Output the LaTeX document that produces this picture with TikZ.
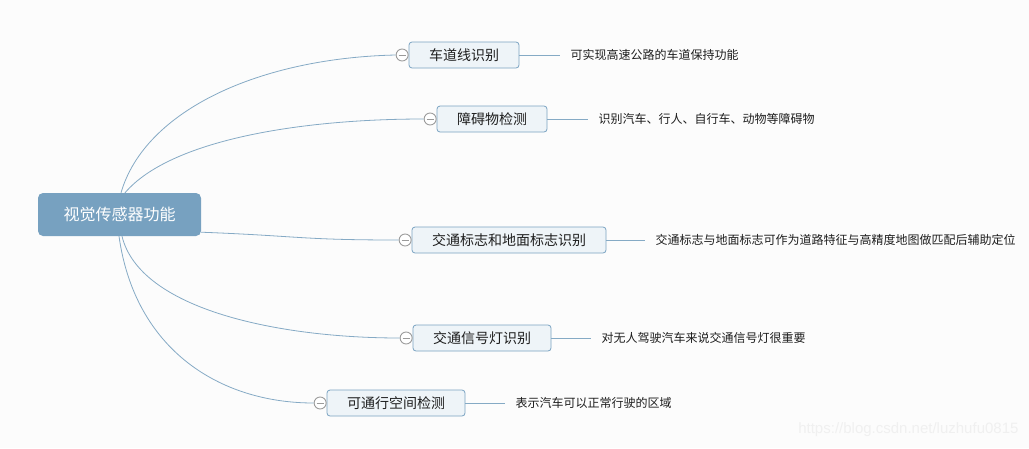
\documentclass[tikz,border=0pt]{standalone}
\usepackage{fontspec}
\setmainfont{Noto Sans CJK SC}
\setsansfont{Liberation Sans}
\usetikzlibrary{positioning}

\definecolor{bgwhite}{HTML}{FCFCFC}
\definecolor{rootblue}{HTML}{77A1C0}
\definecolor{boxfill}{HTML}{EEF4F8}
\definecolor{boxline}{HTML}{7AA3C2}
\definecolor{linkblue}{HTML}{85AAC5}
\definecolor{foldgray}{HTML}{9A9A9A}
\definecolor{textdark}{HTML}{1E1E1E}

\tikzset{
  rootbox/.style={fill=rootblue, rounded corners=5pt, minimum width=163pt, minimum height=43pt,
    text=white, font=\fontsize{16pt}{18pt}\selectfont},
  topic/.style={draw=boxline, line width=0.8pt, fill=boxfill, rounded corners=3pt, minimum height=26pt,
    inner xsep=20pt, text=textdark, font=\fontsize{14pt}{16pt}\selectfont},
  note/.style={inner xsep=10pt, text=textdark, font=\fontsize{12pt}{14pt}\selectfont},
  fold/.style={circle, draw=foldgray, line width=0.9pt, fill=white, minimum size=12pt, inner sep=0pt,
    path picture={\draw[foldgray, line width=0.9pt] ([xshift=-3.5pt]path picture bounding box.center)
      -- ([xshift=3.5pt]path picture bounding box.center);}},
  branch/.style={draw=linkblue, line width=0.8pt},
  watermark/.style={text=black!6, font=\sffamily\fontsize{15pt}{17pt}\selectfont},
}

\begin{document}
\begin{tikzpicture}[x=1pt,y=-1pt]
  % Background
  \path[fill=bgwhite] (0,0) rectangle (1029,448);
  \useasboundingbox (0,0) rectangle (1029,448);

  % Central topic
  \node[rootbox] (root) at (119.5,214.5) {视觉传感器功能};

  % Main topics
  \node[topic] (lane) at (464,55) {车道线识别};
  \node[topic] (obstacle) at (492,119) {障碍物检测};
  \node[topic] (sign) at (509,240) {交通标志和地面标志识别};
  \node[topic] (light) at (482,338) {交通信号灯识别};
  \node[topic] (space) at (396,403) {可通行空间检测};

  % Fold buttons
  \node[fold, left=0pt of lane] (laneFold) {};
  \node[fold, left=0pt of obstacle] (obstacleFold) {};
  \node[fold, left=0pt of sign] (signFold) {};
  \node[fold, left=0pt of light] (lightFold) {};
  \node[fold, left=0pt of space] (spaceFold) {};

  % Notes
  \node[note, right=41pt of lane] (laneNote) {可实现高速公路的车道保持功能};
  \node[note, right=41pt of obstacle] (obstacleNote) {识别汽车、行人、自行车、动物等障碍物};
  \node[note, right=39pt of sign] (signNote) {交通标志与地面标志可作为道路特征与高精度地图做匹配后辅助定位};
  \node[note, right=40pt of light] (lightNote) {对无人驾驶汽车来说交通信号灯很重要};
  \node[note, right=40pt of space] (spaceNote) {表示汽车可以正常行驶的区域};

  % Branches
  \draw[branch] ([xshift=1.5pt]root.north) .. controls (145,110) and (260,58) .. (laneFold.west);
  \draw[branch] ([xshift=5.5pt]root.north) .. controls (170,140) and (300,119) .. (obstacleFold.west);
  \draw[branch] ([yshift=4pt]root.south east) .. controls (300,236) and (300,240) .. (signFold.west);
  \draw[branch] ([xshift=2.5pt]root.south) .. controls (140,310) and (280,338) .. (lightFold.west);
  \draw[branch] ([xshift=-0.5pt]root.south) .. controls (135,350) and (220,403) .. (spaceFold.west);

  % Note links
  \draw[branch] (lane.east) -- (laneNote.west);
  \draw[branch] (obstacle.east) -- (obstacleNote.west);
  \draw[branch] (sign.east) -- (signNote.west);
  \draw[branch] (light.east) -- (lightNote.west);
  \draw[branch] (space.east) -- (spaceNote.west);

  % Watermark
  \node[watermark, anchor=east] (credit) at (1022,430) {https://blog.csdn.net/luzhufu0815};
\end{tikzpicture}
\end{document}
